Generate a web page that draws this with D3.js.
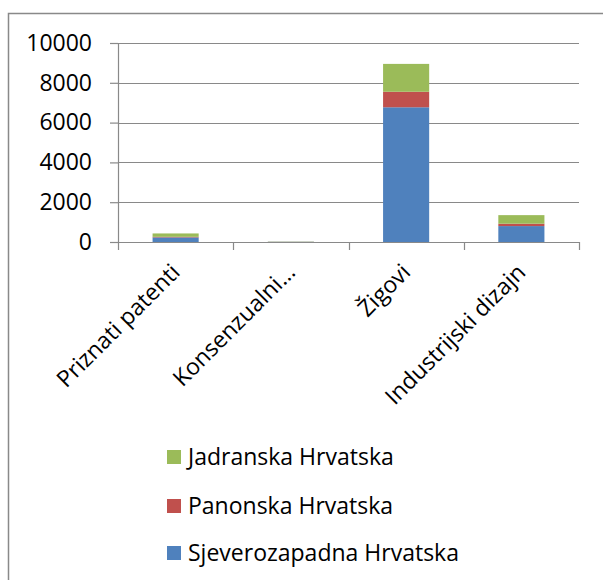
<!DOCTYPE html>
<html>
<head>
<meta charset="utf-8">
<script src="https://cdn.jsdelivr.net/npm/d3@7"></script>
<style>
  body { margin: 0; background: #fff; }
  text { font-family: "Open Sans", "Noto Sans", sans-serif; fill: #000; }
</style>
</head>
<body>
<svg width="603" height="580"></svg>
<script>
// data
var categories = ["Priznati patenti", "Konsenzualni…", "Žigovi", "Industrijski dizajn"];
var seriesNames = ["Sjeverozapadna Hrvatska", "Panonska Hrvatska", "Jadranska Hrvatska"];
var sjeverozapadna = [230, 10, 6770, 800];
var panonska = [30, 5, 780, 120];
var jadranska = [170, 10, 1400, 430];
var yTicks = [0, 2000, 4000, 6000, 8000, 10000];
var colors = ["#4F81BD", "#C0504D", "#9BBB59"];

var svg = d3.select("svg"),
    width = +svg.attr("width"),
    height = +svg.attr("height");

var fontSize = "23px";

// chart frame (cropped on right and bottom)
svg.append("rect")
    .attr("x", 8.5).attr("y", 13.5)
    .attr("width", 620).attr("height", 620)
    .attr("fill", "none")
    .attr("stroke", "#898989")
    .attr("stroke-width", 1.5);

var margin = {left: 118, right: 579, top: 43, bottom: 242};

var x = d3.scaleBand()
    .domain(categories)
    .range([margin.left, margin.right])
    .paddingInner(0.6)
    .paddingOuter(0.3);

var xCat = d3.scaleBand()
    .domain(categories)
    .range([margin.left, margin.right]);

var y = d3.scaleLinear()
    .domain([0, 10000])
    .range([margin.bottom, margin.top]);

// gridlines
svg.append("g")
    .selectAll("line")
    .data(yTicks)
    .enter()
    .append("line")
    .attr("x1", margin.left)
    .attr("x2", margin.right)
    .attr("y1", function (d) { return Math.round(y(d)) + 0.5; })
    .attr("y2", function (d) { return Math.round(y(d)) + 0.5; })
    .attr("stroke", "#898989")
    .attr("stroke-width", 1.2);

// stacked bars
var table = categories.map(function (c, i) {
    return {cat: c, s0: sjeverozapadna[i], s1: panonska[i], s2: jadranska[i]};
});
var stack = d3.stack().keys(["s0", "s1", "s2"])(table);

svg.append("g")
    .selectAll("g")
    .data(stack)
    .enter()
    .append("g")
    .attr("fill", function (d, i) { return colors[i]; })
    .selectAll("rect")
    .data(function (d) { return d; })
    .enter()
    .append("rect")
    .attr("x", function (d) { return x(d.data.cat); })
    .attr("width", x.bandwidth())
    .attr("y", function (d) { return y(d[1]); })
    .attr("height", function (d) { return y(d[0]) - y(d[1]); });

// y axis
var yAxis = d3.axisLeft(y)
    .tickValues(yTicks)
    .tickSize(8)
    .tickPadding(18)
    .tickFormat(d3.format("d"));

var yg = svg.append("g")
    .attr("transform", "translate(" + margin.left + ",0)")
    .call(yAxis);
yg.select(".domain").attr("stroke", "#898989").attr("stroke-width", 1.2);
yg.selectAll(".tick line").attr("stroke", "#898989").attr("stroke-width", 1.2);
yg.selectAll(".tick text").style("font-size", fontSize);

// x axis: ticks at category boundaries
var xBounds = categories.map(function (c) { return xCat(c); }).concat([margin.right]);
svg.append("g")
    .selectAll("line")
    .data(xBounds)
    .enter()
    .append("line")
    .attr("x1", function (d) { return Math.round(d) + 0.5; })
    .attr("x2", function (d) { return Math.round(d) + 0.5; })
    .attr("y1", margin.bottom)
    .attr("y2", margin.bottom + 8)
    .attr("stroke", "#898989")
    .attr("stroke-width", 1.2);

// category labels
svg.append("g")
    .selectAll("text")
    .data(categories)
    .enter()
    .append("text")
    .attr("transform", function (d) {
        var cx = xCat(d) + xCat.bandwidth() / 2;
        return "translate(" + cx + "," + (margin.bottom + 26) + ") rotate(-45)";
    })
    .attr("text-anchor", "end")
    .attr("dy", "0.35em")
    .style("font-size", fontSize)
    .text(function (d) { return d; });

// legend (reverse order)
var legendY = [457, 506, 553];
var legend = svg.append("g")
    .selectAll("g")
    .data([2, 1, 0])
    .enter()
    .append("g")
    .attr("transform", function (d, i) { return "translate(167," + legendY[i] + ")"; });

legend.append("rect")
    .attr("x", 0).attr("y", -7)
    .attr("width", 14).attr("height", 14)
    .attr("fill", function (d) { return colors[d]; });

legend.append("text")
    .attr("x", 21)
    .attr("dy", "0.35em")
    .style("font-size", fontSize)
    .text(function (d) { return seriesNames[d]; });
</script>
</body>
</html>
